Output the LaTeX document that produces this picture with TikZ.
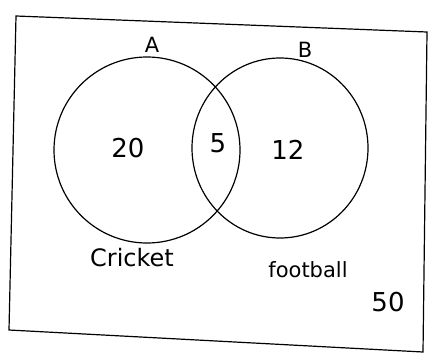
\documentclass[tikz,border=0pt]{standalone}
\usepackage{fontspec}
\setmainfont{DejaVu Sans}
\usetikzlibrary{shapes.geometric}
\begin{document}
\begin{tikzpicture}[x=1pt,y=-1pt,
  edge/.style={line width=1.2pt,black},
  num/.style={font=\fontsize{26}{28}\selectfont},
  setlbl/.style={font=\fontsize{21}{23}\selectfont},
  catlbl/.style={font=\fontsize{24}{26}\selectfont}]
\useasboundingbox[fill=white] (0,0) rectangle (430,356);
\coordinate (c1) at (16,16);
\coordinate (c2) at (427,32);
\coordinate (c3) at (423,352);
\coordinate (c4) at (9,330);
\draw[edge] (c1) -- (c2) -- (c3) -- (c4) -- cycle;
\node[edge,draw,ellipse,minimum width=186,minimum height=186,inner sep=0] (A) at (147,150) {};
\node[edge,draw,ellipse,minimum width=176,minimum height=180,inner sep=0] (B) at (280,148) {};
\node[setlbl] (la) at (152,45) {A};
\node[setlbl] (lb) at (305,50) {B};
\node[num] (n20) at (128,148) {20};
\node[num] (n5) at (218,143) {5};
\node[num] (n12) at (288,150) {12};
\node[catlbl] (cr) at (132,258) {Cricket};
\node[catlbl,font=\fontsize{21}{23}\selectfont] (fb) at (308,270) {football};
\node[num] (n50) at (388,302) {50};
\end{tikzpicture}
\end{document}
